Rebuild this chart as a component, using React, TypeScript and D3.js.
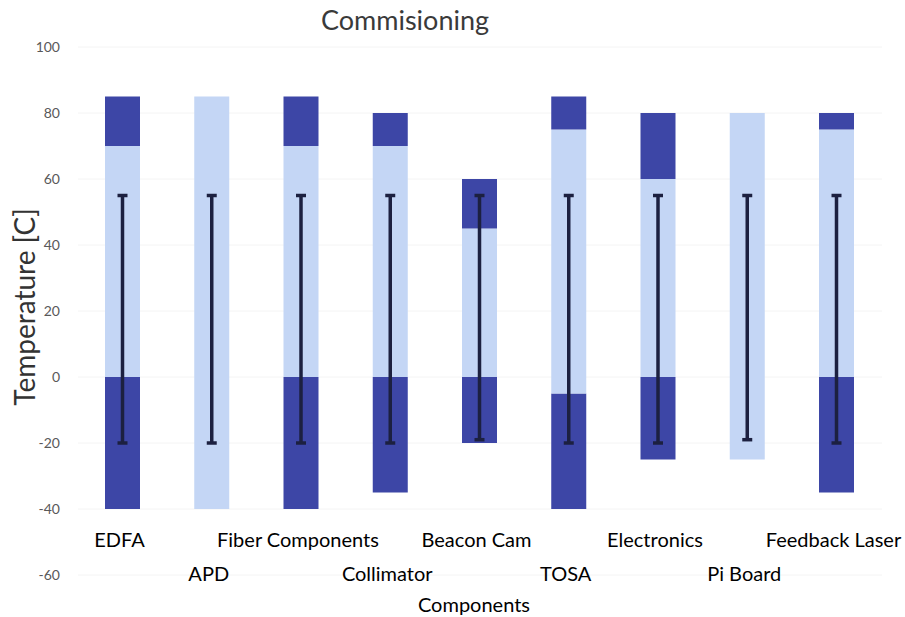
import React from "react";
import * as d3 from "d3";

// Component names in plotting order
const components = [
  "EDFA",
  "APD",
  "Fiber Components",
  "Collimator",
  "Beacon Cam",
  "TOSA",
  "Electronics",
  "Pi Board",
  "Feedback Laser",
];

// Survival (storage) range: overall min / max temperature per component
const survivalMin = [-40, -40, -40, -35, -20, -40, -25, -25, -35];
const survivalMax = [85, 85, 85, 80, 60, 85, 80, 80, 80];

// Operating range (light band) per component
const operatingMin = [0, -40, 0, 0, 0, -5, 0, -25, 0];
const operatingMax = [70, 85, 70, 70, 45, 75, 60, 80, 75];

// Commissioning range shown as the black whisker
const commissionMin = [-20, -20, -20, -20, -19, -20, -20, -19, -20];
const commissionMax = [55, 55, 55, 55, 55, 55, 55, 55, 55];

const yTicks = [-60, -40, -20, 0, 20, 40, 60, 80, 100];

const W = 905;
const H = 617;
const FONT = "Lato, 'Open Sans', sans-serif";

const DARK = "#3d46a6";
const LIGHT = "#c4d6f5";
const WHISKER = "#1c2040";

export default function App() {
  const y = d3.scaleLinear().domain([-60, 100]).range([575, 47]);
  const x = d3.scalePoint<string>().domain(components).range([122.5, 836.5]);
  const barW = 35;
  const capW = 10;

  return (
    <svg
      width={W}
      height={H}
      style={{ position: "absolute", left: 0, top: 0, background: "#fff" }}
      fontFamily={FONT}
    >
      {/* faint horizontal gridlines */}
      {yTicks.map((t) => (
        <line
          key={"g" + t}
          x1={78}
          x2={882}
          y1={y(t)}
          y2={y(t)}
          stroke="#f4f4f4"
          strokeWidth={1}
        />
      ))}

      {/* y tick labels */}
      {yTicks.map((t) => (
        <text
          key={"t" + t}
          x={60}
          y={y(t)}
          dy="0.35em"
          textAnchor="end"
          fontSize={14}
          fill="#595959"
        >
          {t}
        </text>
      ))}

      {components.map((c, i) => {
        const cx = x(c)!;
        const x0 = cx - barW / 2;
        const segments: [number, number, string][] = [
          [survivalMin[i], operatingMin[i], DARK],
          [operatingMin[i], operatingMax[i], LIGHT],
          [operatingMax[i], survivalMax[i], DARK],
        ];
        return (
          <g key={c}>
            {segments
              .filter(([a, b]) => b > a)
              .map(([a, b, col], k) => (
                <rect
                  key={k}
                  x={x0}
                  width={barW}
                  y={y(b)}
                  height={y(a) - y(b)}
                  fill={col}
                />
              ))}
            <line
              x1={cx}
              x2={cx}
              y1={y(commissionMin[i])}
              y2={y(commissionMax[i])}
              stroke={WHISKER}
              strokeWidth={3.5}
            />
            <line
              x1={cx - capW / 2}
              x2={cx + capW / 2}
              y1={y(commissionMax[i])}
              y2={y(commissionMax[i])}
              stroke={WHISKER}
              strokeWidth={3.5}
            />
            <line
              x1={cx - capW / 2}
              x2={cx + capW / 2}
              y1={y(commissionMin[i])}
              y2={y(commissionMin[i])}
              stroke={WHISKER}
              strokeWidth={3.5}
            />
            <text
              x={cx - 3}
              y={i % 2 === 0 ? 540 : 574}
              dy="0.35em"
              textAnchor="middle"
              fontSize={20}
              fill="#000"
            >
              {c}
            </text>
          </g>
        );
      })}

      {/* chart title */}
      <text x={405} y={21} dy="0.35em" textAnchor="middle" fontSize={27} fill="#3a3a3a">
        Commisioning
      </text>

      {/* axis titles */}
      <text
        transform={`translate(25,307) rotate(-90)`}
        dy="0.35em"
        textAnchor="middle"
        fontSize={28}
        fill="#333"
      >
        Temperature [C]
      </text>
      <text x={474} y={605} dy="0.35em" textAnchor="middle" fontSize={20} fill="#000">
        Components
      </text>
    </svg>
  );
}
